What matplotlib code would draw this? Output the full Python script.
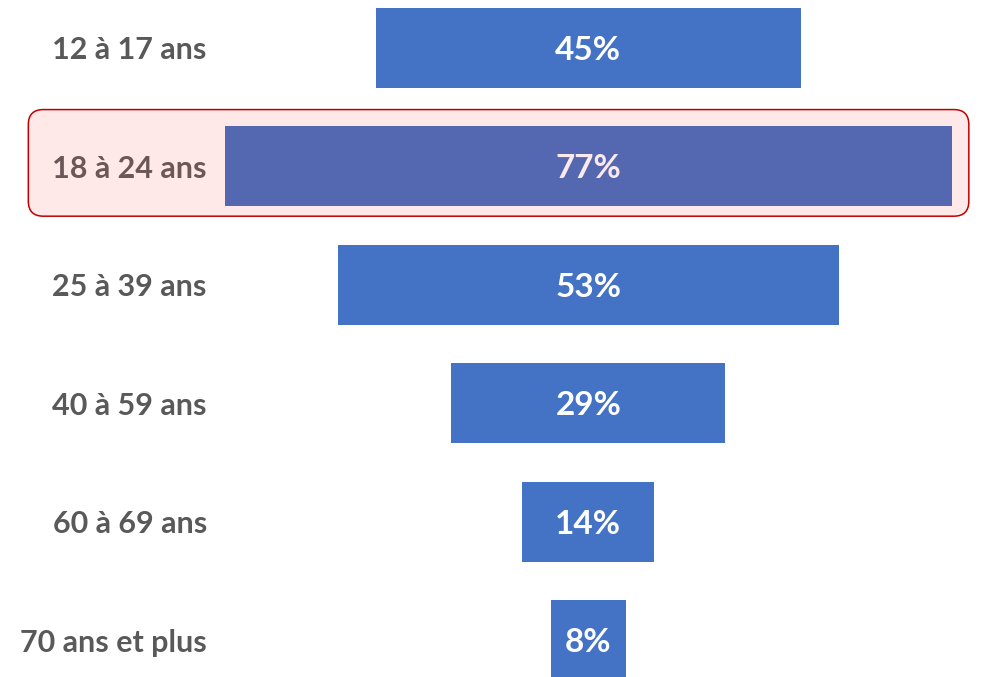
import matplotlib
matplotlib.use('Agg')
import matplotlib.pyplot as plt
from matplotlib.patches import FancyBboxPatch
from matplotlib.transforms import IdentityTransform

# Data
categories = ['12 à 17 ans', '18 à 24 ans', '25 à 39 ans', '40 à 59 ans', '60 à 69 ans', '70 ans et plus']
values = [45, 77, 53, 29, 14, 8]
highlight = 1

plt.rcParams['font.family'] = ['Lato', 'DejaVu Sans']

fig = plt.figure(figsize=(9.83, 6.77), dpi=100)
ax = fig.add_axes([0, 0, 1, 1])
ax.set_xlim(-62.3, 41.8)
ax.set_ylim(5.31, -0.405)
ax.axis('off')

y = list(range(len(categories)))
colors = ['#4472C4'] * len(values)
colors[highlight] = '#5468B2'
ax.barh(y, values, left=[-v / 2 for v in values], height=0.676, color=colors, zorder=3)

for i, (cat, v) in enumerate(zip(categories, values)):
    hl = i == highlight
    ax.text(-40.4, i, cat, ha='right', va='center_baseline', fontsize=22, fontweight='bold',
            color='#6B5757' if hl else '#595959', zorder=4)
    ax.text(0, i, f'{v}%', ha='center', va='center_baseline', fontsize=24, fontweight='bold',
            color='#FBE9EB' if hl else 'white', zorder=4)

# highlight box around the 18-24 row, drawn in pixels so corners stay round
fig.canvas.draw()
(x0, y0), (x1, y1) = ax.transData.transform([(-59.3, highlight + 0.42), (40.3, highlight - 0.48)])
box = FancyBboxPatch((x0, y0), x1 - x0, y1 - y0, boxstyle='round,pad=0,rounding_size=15',
                     transform=IdentityTransform(), facecolor='#FFE8E8', edgecolor='#C00000',
                     linewidth=1.1, zorder=1)
fig.patches.append(box)
ax.set_zorder(2)
ax.patch.set_visible(False)

fig.savefig('out.png', dpi=100)
